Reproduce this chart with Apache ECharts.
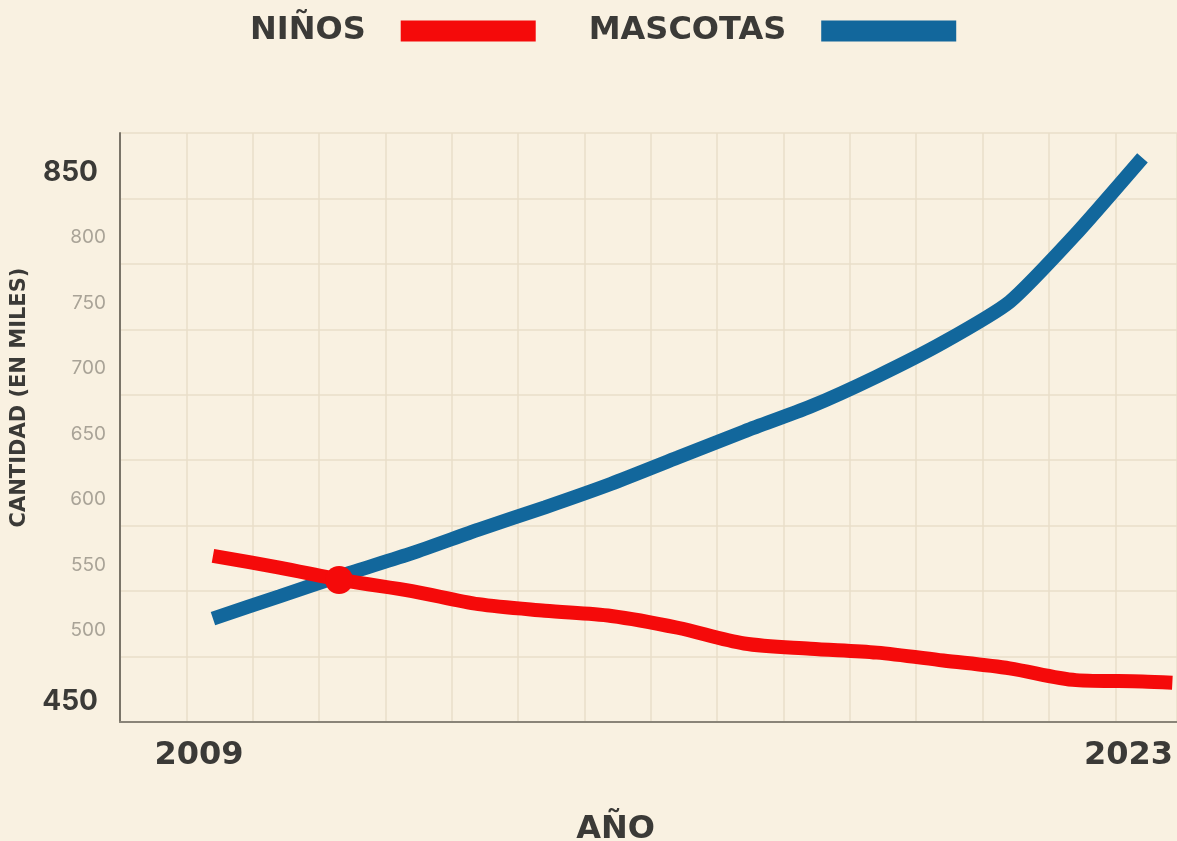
<!DOCTYPE html>
<html>
<head>
<meta charset="utf-8">
<script src="https://cdn.jsdelivr.net/npm/echarts@6/dist/echarts.min.js"></script>
<style>
html, body { margin: 0; padding: 0; background: #f9f1e1; }
#chart { width: 1177px; height: 841px; }
</style>
</head>
<body>
<div id="chart"></div>
<script>
// años del eje x
var years = [2009, 2010, 2011, 2012, 2013, 2014, 2015, 2016, 2017, 2018, 2019, 2020, 2021, 2022, 2023];
// cantidad (en miles)
var mascotas = [509, 526, 543, 559, 577, 594, 612, 632, 652, 671, 694, 720, 751, 803, 861];
var ninos = [557, 548, 538, 530, 520, 515, 511, 502, 490, 486, 483, 477, 471, 462, 461];
// la línea roja sigue un poco después de 2023
var ninosFinX = 2023.45;
var ninosFinY = 460;
// punto de cruce
var cruceX = 2010.9;
var cruceY = 538.5;
// etiquetas
var yTicks = [450, 500, 550, 600, 650, 700, 750, 800, 850];
var xTicks = [2009, 2023];

var dark = '#3b3a37';
var fontFam = 'Inter, "Noto Sans", sans-serif';
var boldFam = '"DejaVu Sans", Inter, sans-serif';

function pares(xs, ys) {
	var out = [];
	for (var i = 0; i < xs.length; i++) {
		out.push([xs[i], ys[i]]);
	}
	return out;
}

var ninosData = pares(years, ninos);
ninosData.push([ninosFinX, ninosFinY]);

var chart = echarts.init(document.getElementById('chart'));

var option = {
	backgroundColor: '#f9f1e1',
	animation: false,
	textStyle: { fontFamily: fontFam },
	legend: {
		data: ['NIÑOS', 'MASCOTAS'],
		left: 245,
		top: 10,
		align: 'right',
		icon: 'rect',
		itemWidth: 135,
		itemHeight: 21,
		itemGap: 53,
		itemStyle: { borderWidth: 0 },
		textStyle: {
			color: dark,
			fontSize: 32,
			fontWeight: 'bold',
			fontFamily: boldFam,
			padding: [0, 30, 0, 0]
		}
	},
	grid: {
		left: 120,
		right: 0,
		top: 133,
		bottom: 119,
		outerBoundsMode: 'none'
	},
	xAxis: [
		{
			// eje de datos
			type: 'value',
			min: 2007.6,
			max: 2023.52,
			axisLine: { show: true, lineStyle: { color: '#8a8478', width: 2 } },
			axisTick: { show: false },
			splitLine: { show: false },
			axisLabel: {
				customValues: xTicks,
				formatter: function (v) { return String(v); },
				color: dark,
				fontSize: 32,
				fontWeight: 'bold',
				fontFamily: boldFam,
				margin: 18,
				padding: [0, 28, 0, 0]
			},
			name: 'AÑO',
			nameLocation: 'middle',
			nameGap: 92,
			nameTextStyle: {
				color: dark,
				fontSize: 32,
				fontWeight: 'bold',
				fontFamily: boldFam,
				padding: [0, 66, 0, 0]
			}
		},
		{
			// solo la cuadrícula
			type: 'value',
			min: 0,
			max: 15.93,
			interval: 1,
			axisLine: { show: false },
			axisTick: { show: false },
			axisLabel: { show: false },
			splitLine: { show: true, lineStyle: { color: '#e8dec9', width: 1.5 } }
		}
	],
	yAxis: [
		{
			type: 'value',
			min: 430,
			max: 880,
			axisLine: { show: true, lineStyle: { color: '#7a7468', width: 2 } },
			axisTick: { show: false },
			splitLine: { show: false },
			axisLabel: {
				customValues: yTicks,
				margin: 14,
				formatter: function (v) {
					if (v === yTicks[0]) {
						return '{low|' + v + '}';
					}
					if (v === yTicks[yTicks.length - 1]) {
						return '{b|' + v + '}';
					}
					return '{n|' + v + '}';
				},
				rich: {
					b: { color: dark, fontSize: 28, fontWeight: 'bold', padding: [0, 8, 0, 0], fontFamily: fontFam },
					low: { color: dark, fontSize: 28, fontWeight: 'bold', padding: [12, 8, 0, 0], fontFamily: fontFam },
					n: { color: '#a9a397', fontSize: 19, fontFamily: fontFam }
				}
			},
			name: 'CANTIDAD (EN MILES)',
			nameLocation: 'middle',
			nameGap: 90,
			nameTextStyle: {
				color: dark,
				fontSize: 21,
				fontWeight: 'bold',
				fontFamily: boldFam,
				padding: [0, 0, 0, 60]
			}
		},
		{
			type: 'value',
			min: 0,
			max: 9,
			interval: 1,
			axisLine: { show: false },
			axisTick: { show: false },
			axisLabel: { show: false },
			splitLine: { show: true, lineStyle: { color: '#e8dec9', width: 1.5 } }
		}
	],
	series: [
		{
			name: 'MASCOTAS',
			type: 'line',
			xAxisIndex: 0,
			yAxisIndex: 0,
			data: pares(years, mascotas),
			smooth: 0.2,
			symbol: 'none',
			color: '#12679c',
			lineStyle: { width: 14, color: '#12679c', cap: 'butt' }
		},
		{
			name: 'NIÑOS',
			type: 'line',
			xAxisIndex: 0,
			yAxisIndex: 0,
			data: ninosData,
			smooth: 0.3,
			symbol: 'none',
			color: '#f50a0a',
			lineStyle: { width: 14, color: '#f50a0a', cap: 'butt' }
		},
		{
			type: 'scatter',
			xAxisIndex: 0,
			yAxisIndex: 0,
			data: [[cruceX, cruceY]],
			symbolSize: 28,
			itemStyle: { color: '#f50a0a', opacity: 1 },
			z: 5
		}
	]
};

chart.setOption(option);
</script>
</body>
</html>
